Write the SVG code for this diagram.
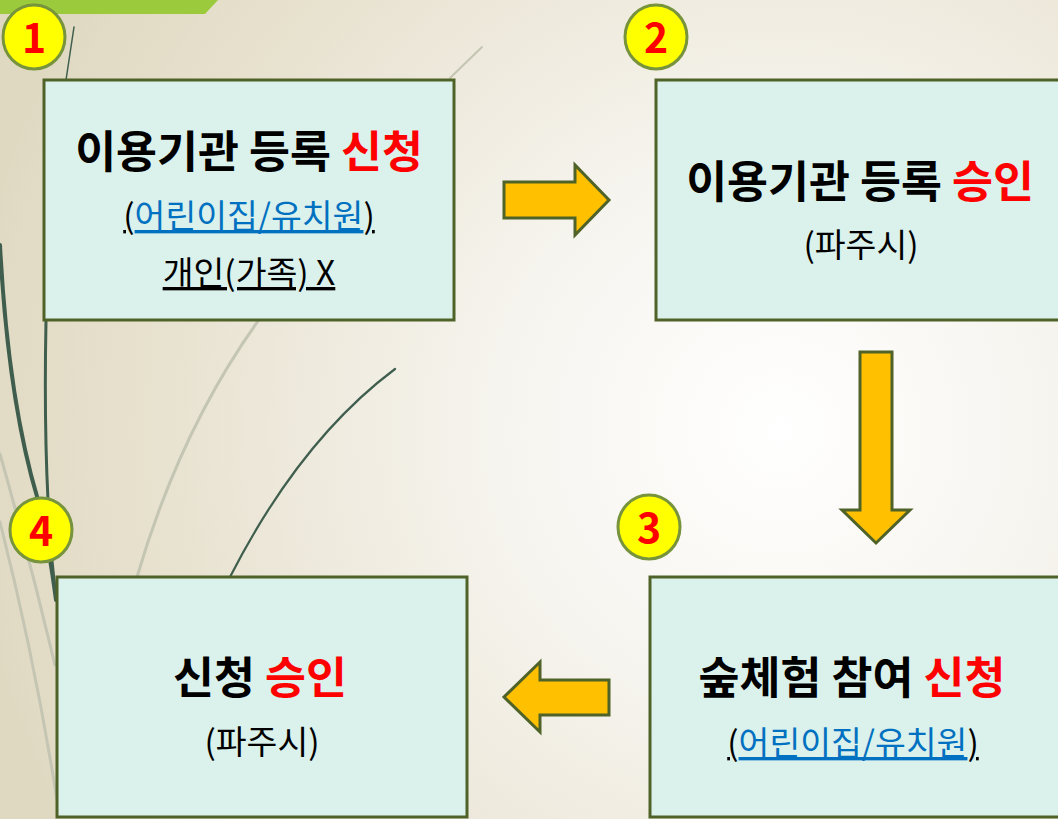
<svg xmlns="http://www.w3.org/2000/svg" width="1058" height="819" viewBox="0 0 1058 819">
<defs>
<radialGradient id="bg" cx="780" cy="430" r="820" gradientUnits="userSpaceOnUse">
<stop offset="0" stop-color="#FFFFFF"/>
<stop offset="0.35" stop-color="#F6F4EE"/>
<stop offset="0.75" stop-color="#E8E2D0"/>
<stop offset="1" stop-color="#E0D9C2"/>
</radialGradient>
<style>
.box{fill:#DAF1EC;stroke:#4F6228;stroke-width:3}
.badge{fill:#FFFF00;stroke:#77933C;stroke-width:3}
.num{font-family:"Noto Sans CJK KR","Liberation Sans",sans-serif;font-weight:bold;font-size:41px;fill:#FF0000;text-anchor:middle}
.title{font-family:"Noto Sans CJK KR",sans-serif;font-weight:bold;font-size:44.5px;fill:#000;text-anchor:middle}
.sub{font-family:"Noto Sans CJK KR",sans-serif;font-size:33.5px;fill:#000;text-anchor:middle}
.red{fill:#FF0000}
.blue{fill:#0070C0}
.ul{text-decoration:underline}
.arrow{fill:#FFC000;stroke:#4F6228;stroke-width:3;stroke-linejoin:miter}
.grass{fill:none;stroke:#3F5E4E;stroke-linecap:round}
.faint{fill:none;stroke:#C4C5B3;stroke-linecap:round}
</style>
</defs>
<rect width="1058" height="819" fill="url(#bg)"/>
<g id="background">
<polygon points="0,0 218,0 205,14 0,14" fill="#9BCB3C"/>
<path class="faint" stroke-width="3" d="M0,454 Q30,560 55,665"/>
<path class="faint" stroke-width="3" d="M0,522 Q35,660 57,800"/>
<path class="faint" stroke-width="3" d="M258,321 Q180,430 137,577"/>
<path class="faint" stroke-width="2" d="M482,47 L450,78"/>
<path class="grass" stroke-width="4" d="M0,245 Q8,400 38,500 Q48,540 56,600"/>
<path class="grass" stroke-width="3" d="M46,321 Q44,420 48,500 Q50,550 56,600"/>
<path class="grass" stroke-width="1.5" d="M74,27 L66,80"/>
<path class="grass" stroke-width="2.2" d="M395,369 Q300,440 230,577"/>
</g>
<g id="connectors">
<polygon id="arrow-1-2" class="arrow" points="504,182 575,182 575,165 609,200 575,235 575,218 504,218"/>
<polygon id="arrow-2-3" class="arrow" points="860,352 892,352 892,510 910,510 876,543 842,510 860,510"/>
<polygon id="arrow-3-4" class="arrow" points="609,680 540,680 540,662 504,697 540,732 540,715 609,715"/>
</g>
<g id="node1">
<rect class="box" x="44" y="80" width="410" height="240"/>
<text class="title" x="249" y="168">이용기관 등록 <tspan class="red">신청</tspan></text>
<text class="sub" x="249" y="228"><tspan class="ul">(</tspan><tspan class="blue ul">어린이집/유치원</tspan><tspan class="ul">)</tspan></text>
<text class="sub ul" x="249" y="285">개인(가족) X</text>
<ellipse class="badge" cx="34" cy="37" rx="31" ry="32"/>
<text class="num" x="34" y="53">1</text>
</g>
<g id="node2">
<rect class="box" x="656" y="80" width="410" height="240"/>
<text class="title" x="860" y="198">이용기관 등록 <tspan class="red">승인</tspan></text>
<text class="sub" x="861" y="257">(파주시)</text>
<ellipse class="badge" cx="656" cy="37" rx="31" ry="32"/>
<text class="num" x="656" y="53">2</text>
</g>
<g id="node3">
<rect class="box" x="650" y="577" width="410" height="240"/>
<text class="title" x="852" y="694">숲체험 참여 <tspan class="red">신청</tspan></text>
<text class="sub" x="853" y="755"><tspan class="ul">(</tspan><tspan class="blue ul">어린이집/유치원</tspan><tspan class="ul">)</tspan></text>
<ellipse class="badge" cx="649" cy="527" rx="31" ry="32"/>
<text class="num" x="649" y="543">3</text>
</g>
<g id="node4">
<rect class="box" x="57" y="577" width="410" height="240"/>
<text class="title" x="260" y="694">신청 <tspan class="red">승인</tspan></text>
<text class="sub" x="262" y="754">(파주시)</text>
<ellipse class="badge" cx="41" cy="530" rx="31" ry="32"/>
<text class="num" x="41" y="546">4</text>
</g>
</svg>
